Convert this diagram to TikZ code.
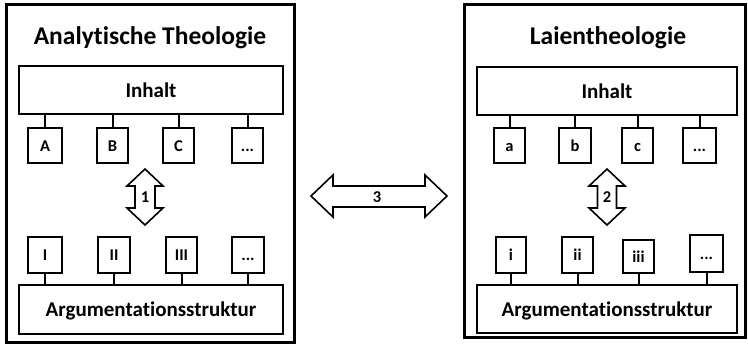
\documentclass[tikz,border=0pt]{standalone}
\usepackage{fontspec}
\setmainfont{Carlito}[Ligatures={NoCommon,NoRare,NoContextual},Contextuals=NoAlternate,RawFeature={-liga;-clig;-calt;-dlig}]
\begin{document}
\begin{tikzpicture}[x=1pt,y=-1pt,
 outerbox/.style={draw, line width=2.9pt, inner sep=0pt},
 bigbox/.style={draw, line width=2.1pt, inner sep=0pt, text height=14pt, text depth=0pt, font=\fontsize{21}{24}\selectfont\bfseries},
 smallbox/.style={draw, line width=2.1pt, inner sep=0pt, text height=11pt, text depth=0pt, font=\fontsize{16.5}{19}\selectfont\bfseries},
 conn/.style={line width=2pt},
 dblarrow/.style={draw, line width=1.6pt, line join=miter, fill=white},
 titletext/.style={anchor=base, inner sep=0pt, font=\fontsize{25.5}{30}\selectfont\bfseries},
 numlabel/.style={inner sep=0pt, text height=11pt, text depth=0pt, font=\fontsize{16.5}{19}\selectfont\bfseries}]
\useasboundingbox (0,0) rectangle (748,348);

% outer frames
\node[outerbox, minimum width=288pt, minimum height=338pt] (outL) at (150.5,173.5) {};
\node[outerbox, minimum width=281pt, minimum height=333pt] (outR) at (605,171) {};

% titles
\node[titletext] (titL) at (150,44) {Analytische Theologie};
\node[titletext] (titR) at (608,45) {Laientheologie};

% big boxes
\node[bigbox, minimum width=264pt, minimum height=48pt] (inhL) at (151,90) {Inhalt};
\node[bigbox, minimum width=264pt, minimum height=49pt] (argL) at (151,309.5) {Argumentationsstruktur};
\node[bigbox, minimum width=260pt, minimum height=48pt] (inhR) at (607,91) {Inhalt};
\node[bigbox, minimum width=260pt, minimum height=48pt] (argR) at (607,309) {Argumentationsstruktur};

% left small boxes
\node[smallbox, minimum width=34pt, minimum height=35pt] (A) at (45,145.5) {A};
\node[smallbox, minimum width=31pt, minimum height=35pt] (B) at (112.5,145.5) {B};
\node[smallbox, minimum width=31pt, minimum height=35pt] (C) at (178.5,145.5) {C};
\node[smallbox, minimum width=31pt, minimum height=35pt] (dL1) at (247.5,145.5) {...};
\node[smallbox, minimum width=34pt, minimum height=36pt] (I1) at (45,255) {I};
\node[smallbox, minimum width=32pt, minimum height=36pt] (I2) at (114,255) {II};
\node[smallbox, minimum width=31pt, minimum height=36pt] (I3) at (181.5,255) {III};
\node[smallbox, minimum width=32pt, minimum height=36pt] (dL2) at (248,255) {...};

% right small boxes
\node[smallbox, minimum width=31pt, minimum height=35pt] (a) at (509.5,145.5) {a};
\node[smallbox, minimum width=32pt, minimum height=35pt] (b) at (575,145.5) {b};
\node[smallbox, minimum width=31pt, minimum height=35pt] (c) at (637.5,145.5) {c};
\node[smallbox, minimum width=33pt, minimum height=35pt] (dR1) at (699.5,145.5) {...};
\node[smallbox, minimum width=30pt, minimum height=36pt] (i1) at (511,255) {i};
\node[smallbox, minimum width=31pt, minimum height=36pt] (i2) at (577.5,255) {ii};
\node[smallbox, minimum width=31pt, minimum height=33pt] (i3) at (638.5,256.5) {iii};
\node[smallbox, minimum width=33pt, minimum height=37pt] (dR2) at (706.5,253.5) {...};

% connectors
\foreach \n in {A,B,C,dL1} \draw[conn] (\n.north) -- (\n.north |- inhL.south);
\foreach \n in {I1,I2,I3,dL2} \draw[conn] (\n.south) -- (\n.south |- argL.north);
\foreach \n in {a,b,c,dR1} \draw[conn] (\n.north) -- (\n.north |- inhR.south);
\foreach \n in {i1,i2,i3,dR2} \draw[conn] (\n.south) -- (\n.south |- argR.north);

% double arrows
\draw[dblarrow] (145,169) -- (163,186) -- (155,186) -- (155,208) -- (163,208) -- (145,225)
  -- (127,208) -- (135,208) -- (135,186) -- (127,186) -- cycle;
\node[numlabel] (n1) at (145,197) {1};

\draw[dblarrow] (607,169) -- (625,186) -- (616.5,186) -- (616.5,208) -- (625,208) -- (607,225)
  -- (589,208) -- (597.5,208) -- (597.5,186) -- (589,186) -- cycle;
\node[numlabel] (n2) at (607,197) {2};

\draw[dblarrow] (311,196) -- (333,175) -- (333,186) -- (425,186) -- (425,175) -- (447,196)
  -- (425,217) -- (425,207) -- (333,207) -- (333,217) -- cycle;
\node[numlabel] (n3) at (377,197) {3};
\end{tikzpicture}
\end{document}
